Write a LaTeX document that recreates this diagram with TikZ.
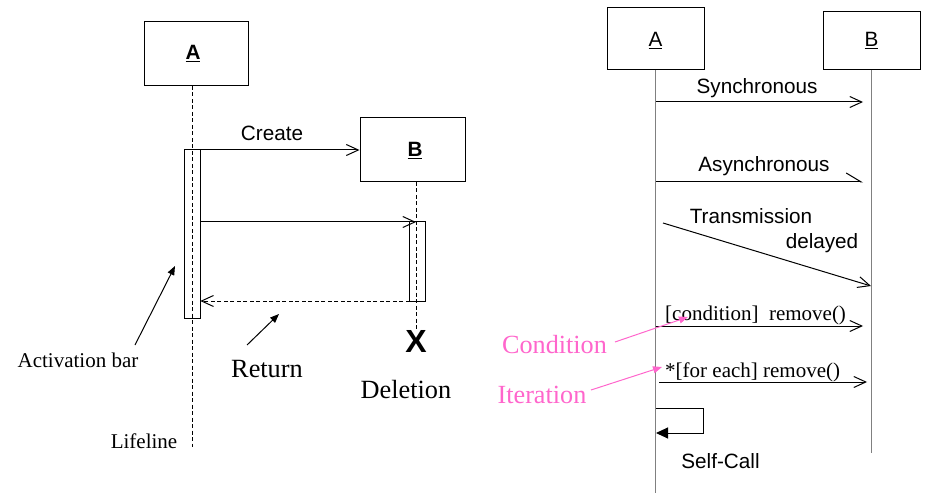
\documentclass[tikz,border=0pt]{standalone}
\usepackage{fontspec}
\setmainfont{Liberation Serif}
\setsansfont{Liberation Sans}
\usetikzlibrary{arrows.meta}
\definecolor{pinkc}{HTML}{FF66CC}
\definecolor{lifegray}{HTML}{808080}
\begin{document}
\begin{tikzpicture}[x=1pt,y=-1pt,
  objbox/.style={draw,line width=1pt,inner sep=0pt},
  actbar/.style={draw,line width=1pt,inner sep=0pt,minimum width=16pt},
  dline/.style={line width=0.8pt,dash pattern=on 4pt off 2.5pt},
  gline/.style={draw=lifegray,line width=1pt},
  msg/.style={line width=1pt,-{Straight Barb[length=12pt,width=11pt,line width=1pt]}},
  halfmsg/.style={line width=1pt,-{Straight Barb[left,length=15pt,width=18pt,line width=1pt]}},
  pointer/.style={line width=1pt,-{Triangle[length=9pt,width=7pt]}},
  ppointer/.style={draw=pinkc,line width=1pt,-{Triangle[length=9pt,width=7pt]},pinkc},
  sanslbl/.style={font=\sffamily\fontsize{20.7}{24}\selectfont,inner sep=0pt,anchor=base},
  seriflbl/.style={font=\fontsize{21}{25}\selectfont,inner sep=0pt,anchor=base},
  bigserif/.style={font=\fontsize{26.3}{30}\selectfont,inner sep=0pt,anchor=base},
  pinklbl/.style={font=\fontsize{26.2}{30}\selectfont,inner sep=0pt,anchor=base,text=pinkc}
]
\useasboundingbox (0,0) rectangle (938,500);

% ---------- left diagram ----------
\node[objbox,minimum width=104pt,minimum height=64pt] (LA) at (196,54) {};
\node[sanslbl] (LAt) at (193,60) {\textbf{\underline{A}}};
\node[objbox,minimum width=105pt,minimum height=64pt] (LB) at (412.5,150) {};
\node[sanslbl] (LBt) at (415,157) {\textbf{\underline{B}}};

\coordinate (LAtop) at (192,86);
\coordinate (LAend) at (192,447);
\draw[dline] (LAtop) -- (LAend);
\coordinate (LBtop) at (416,182);
\coordinate (LBend) at (416,329);
\draw[dline] (LBtop) -- (LBend);

\node[actbar,minimum height=168pt] (barA) at (192.3,234) {};
\node[actbar,minimum height=79pt] (barB) at (417,261.5) {};

\coordinate (c1) at (200.3,150);
\coordinate (m1s) at (200.3,222);
\coordinate (m1e) at (416,222);
\coordinate (r1s) at (409.5,301);
\coordinate (r1e) at (200.3,301);
\draw[msg] (c1) -- (LB.west |- c1);
\node[sanslbl] (create) at (272,141) {Create};
\draw[msg] (m1s) -- (m1e);
\draw[dline,-{Straight Barb[length=12pt,width=11pt,line width=1pt]}] (r1s) -- (r1e);

\node[font=\sffamily\bfseries\fontsize{32}{34}\selectfont,inner sep=0pt] (X) at (416,341) {X};
\node[bigserif] (del) at (406,398) {Deletion};
\node[bigserif] (ret) at (267,377) {Return};
\node[seriflbl] (act) at (78,367) {Activation bar};
\node[seriflbl] (life) at (144,448) {Lifeline};

\coordinate (p1s) at (135,345);
\coordinate (p1e) at (175,266);
\draw[pointer] (p1s) -- (p1e);
\coordinate (p2s) at (247,345);
\coordinate (p2e) at (279,314);
\draw[pointer] (p2s) -- (p2e);

% ---------- right diagram ----------
\node[draw,line width=1pt,minimum width=97pt,minimum height=62pt,inner sep=0pt] (RA) at (655.5,39) {};
\node[sanslbl] (RAt) at (655.5,47) {\underline{A}};
\node[draw,line width=1pt,minimum width=97pt,minimum height=58pt,inner sep=0pt] (RB) at (871.5,41) {};
\node[sanslbl] (RBt) at (871.5,47) {\underline{B}};

\coordinate (RAend) at (655.7,493);
\coordinate (RBend) at (871.7,453);
\draw[gline] (RA.south -| RAend) -- (RAend);
\draw[gline] (RB.south -| RBend) -- (RBend);

% synchronous
\coordinate (s1) at (656,102);
\coordinate (s2) at (863,102);
\draw[msg] (s1) -- (s2);
\node[sanslbl] (sync) at (757,94) {Synchronous};
% asynchronous
\coordinate (a1) at (656,182);
\coordinate (a2) at (863,182);
\draw[halfmsg] (a1) -- (a2);
\node[sanslbl] (async) at (764,172) {Asynchronous};
% transmission delayed
\coordinate (t1) at (663,223);
\coordinate (t2) at (871,286);
\draw[msg] (t1) -- (t2);
\node[sanslbl] (trans) at (751,223) {Transmission};
\node[sanslbl] (delayed) at (822,248) {delayed};
% condition
\coordinate (cd1) at (656,326);
\coordinate (cd2) at (863,326);
\draw[msg] (cd1) -- (cd2);
\node[seriflbl,anchor=base west] (condt) at (665,320) {[condition]\ \ remove()};
% iteration
\coordinate (it1) at (659,382);
\coordinate (it2) at (867,382);
\draw[msg] (it1) -- (it2);
\node[seriflbl,anchor=base west] (itt) at (665,377) {*[for each] remove()};
% self call
\coordinate (sc1) at (656,408);
\coordinate (sc2) at (703,433);
\coordinate (sc3) at (656,433);
\draw[line width=1pt,-{Triangle[length=12pt,width=11pt]}] (sc1) -| (sc2) -- (sc3);
\node[sanslbl] (self) at (720.5,468) {Self-Call};

% pink annotations
\node[pinklbl] (cond) at (554.5,353) {Condition};
\node[pinklbl] (iter) at (542,403) {Iteration};
\coordinate (pc1) at (615,342);
\coordinate (pc2) at (688,317);
\draw[ppointer] (pc1) -- (pc2);
\coordinate (pi1) at (591,390);
\coordinate (pi2) at (662,367);
\draw[ppointer] (pi1) -- (pi2);
\end{tikzpicture}
\end{document}
